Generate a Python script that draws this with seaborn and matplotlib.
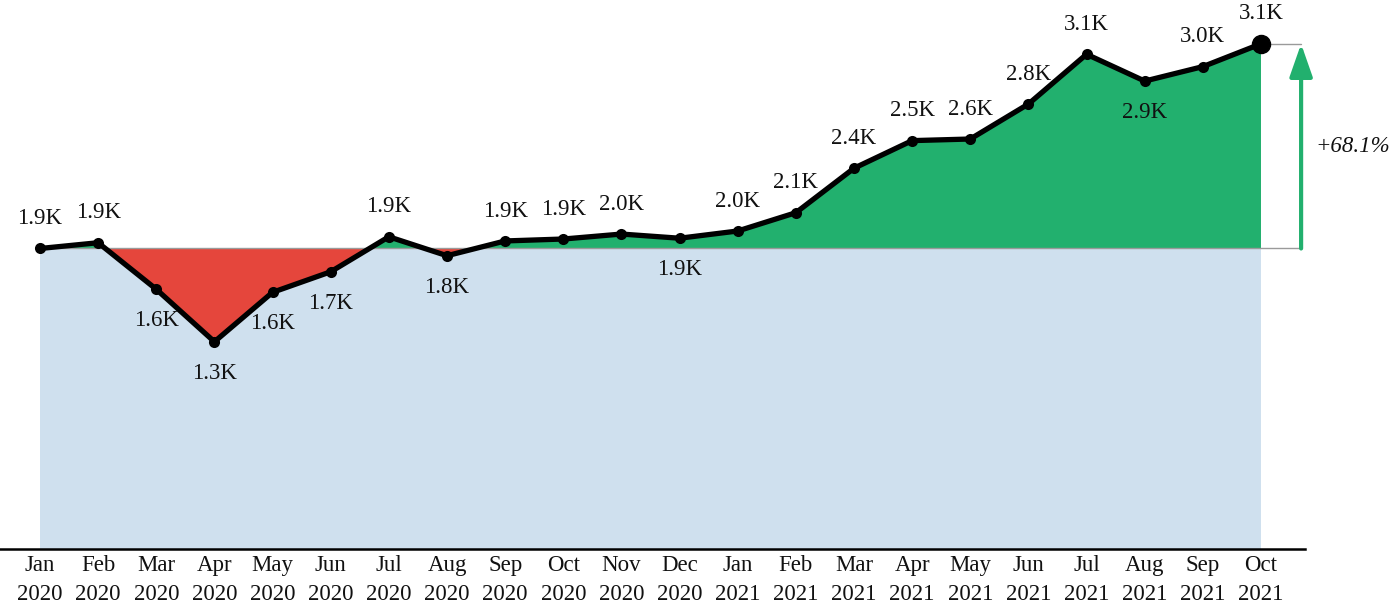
import numpy as np
import pandas as pd
import matplotlib
matplotlib.use("Agg")
import matplotlib.pyplot as plt
import seaborn as sns

# Monthly values, Jan 2020 - Oct 2021
months = ["Jan", "Feb", "Mar", "Apr", "May", "Jun", "Jul", "Aug", "Sep", "Oct", "Nov", "Dec",
          "Jan", "Feb", "Mar", "Apr", "May", "Jun", "Jul", "Aug", "Sep", "Oct"]
years = ["2020"] * 12 + ["2021"] * 10
values = [1872, 1908, 1618, 1291, 1599, 1727, 1945, 1827, 1919, 1931, 1962, 1936,
          1981, 2095, 2372, 2544, 2554, 2772, 3082, 2915, 3005, 3147]

RED = "#e5463c"
GREEN = "#22b06e"
BLUE_BG = "#cfe0ee"
TEXT = "#111111"

sns.set_style("white")
plt.rcParams["font.family"] = ["Liberation Serif", "DejaVu Serif"]

df = pd.DataFrame({"idx": np.arange(len(values)), "value": values,
                   "tick": [f"{m}\n{y}" for m, y in zip(months, years)]})
x = df["idx"].to_numpy(dtype=float)
y = df["value"].to_numpy(dtype=float)
base = y[0]
last = y[-1]

fig = plt.figure(figsize=(13.94, 6.05), dpi=100)
ax = fig.add_axes([0.0, 56 / 605, 1305 / 1394, 549 / 605])

# Background area up to the starting level
ax.fill_between(x, 0, base, color=BLUE_BG, lw=0, zorder=1)
# Deviation from the starting level
ax.fill_between(x, y, base, where=y < base, interpolate=True, color=RED, lw=0, zorder=2)
ax.fill_between(x, y, base, where=y >= base, interpolate=True, color=GREEN, lw=0, zorder=2)

xa = 21.69
ax.plot([0, xa], [base, base], color="#9a9a9a", lw=1, zorder=3)
ax.plot([x[-1], xa], [last, last], color="#9a9a9a", lw=1, zorder=3)

sns.lineplot(data=df, x="idx", y="value", ax=ax, color="black", lw=3.8,
             marker="o", markersize=8, markeredgewidth=0, zorder=5)
ax.plot([x[-1]], [last], "o", color="black", markersize=13, zorder=6)

# Value labels
for i, v in enumerate(y):
    below = (i > 0 and v < y[i - 1]) or v < base
    label = f"{v / 1000:.1f}K"
    if below:
        ax.annotate(label, (x[i], v), xytext=(0, -15), textcoords="offset points",
                    ha="center", va="top", fontsize=16.5, color=TEXT, zorder=7)
    else:
        ax.annotate(label, (x[i], v), xytext=(0, 14), textcoords="offset points",
                    ha="center", va="bottom", fontsize=16.5, color=TEXT, zorder=7)

# Overall change arrow
ax.annotate("", xy=(xa, last), xytext=(xa, base),
            arrowprops=dict(arrowstyle="-|>,head_width=0.35,head_length=1.0",
                            color=GREEN, lw=3, mutation_scale=20,
                            shrinkA=0, shrinkB=0), zorder=4)
pct = (last - base) / base * 100
ax.text(21.93, (base + last) / 2, f"+{pct:.1f}%", ha="left", va="center",
        fontsize=16.5, style="italic", color=TEXT, clip_on=False)

ax.set_xlim(-0.688, 21.757)
ax.set_ylim(0, 3420)
ax.set_xticks(x)
ax.set_xticklabels(df["tick"], fontsize=16.5, color=TEXT, linespacing=1.55)
ax.set_yticks([])
ax.set_xlabel("")
ax.set_ylabel("")
ax.tick_params(axis="x", length=0, pad=4)
for s in ["top", "left", "right"]:
    ax.spines[s].set_visible(False)
ax.spines["bottom"].set_color("black")
ax.spines["bottom"].set_linewidth(1.8)
ax.set_facecolor("none")

fig.savefig("out.png", dpi=100, facecolor="white")
